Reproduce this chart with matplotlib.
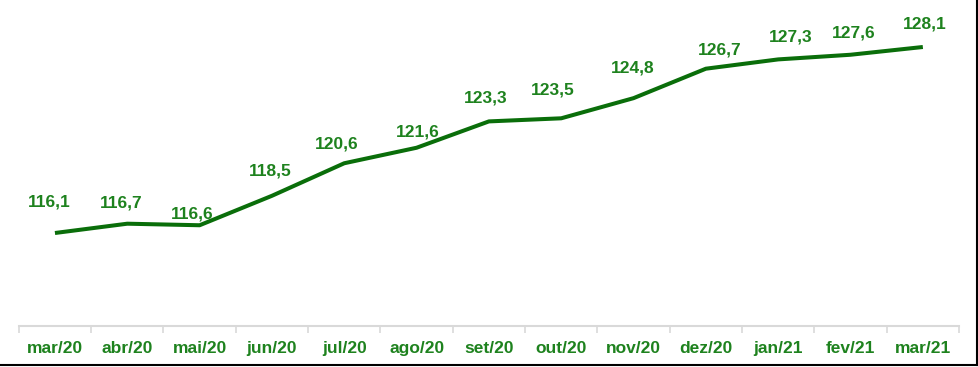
import matplotlib
matplotlib.use("Agg")
import matplotlib.pyplot as plt
from matplotlib.lines import Line2D

months = ["mar/20", "abr/20", "mai/20", "jun/20", "jul/20", "ago/20", "set/20",
          "out/20", "nov/20", "dez/20", "jan/21", "fev/21", "mar/21"]
values = [116.1, 116.7, 116.6, 118.5, 120.6, 121.6, 123.3, 123.5, 124.8,
          126.7, 127.3, 127.6, 128.1]

# label placement offsets (pixels) relative to each point
label_dx = [-6, -6, -7, -2, -8, 1, -3, -8, -1, 14, 12, 3, 2]
label_dy = [31, 21, 11, 25, 19, 16, 23, 28, 30, 19, 22, 22, 23]

plt.rcParams['font.family'] = ['Liberation Sans', 'DejaVu Sans']

line_color = "#0a6e0a"
text_color = "#1e821e"

fig = plt.figure(figsize=(9.79, 3.67), dpi=100)
ax = fig.add_axes([18.8 / 979, 1 - 326 / 367, (959 - 18.8) / 979, (326 - 16) / 367])

x = list(range(len(months)))
ax.plot(x, values, color=line_color, linewidth=2.9, solid_capstyle='butt')

for xi, v, dx, dy in zip(x, values, label_dx, label_dy):
    ax.annotate(f"{v:.1f}".replace(".", ","), (xi, v), xytext=(dx, dy),
                textcoords="offset pixels", ha="center", va="center",
                fontsize=12.5, fontweight="bold", color=text_color)

ax.set_xlim(-0.5, len(months) - 0.5)
ax.set_ylim(110.1, 130.1)

ax.set_xticks(x)
ax.set_xticklabels(months, fontsize=12.5, fontweight="bold", color=text_color)
ax.tick_params(axis='x', length=0, pad=11)
ax.set_xticks([i - 0.5 for i in range(len(months) + 1)], minor=True)
ax.tick_params(axis='x', which='minor', length=5, width=1.2, color="#d9d9d9")
ax.set_yticks([])

for s in ["top", "right", "left"]:
    ax.spines[s].set_visible(False)
ax.spines["bottom"].set_color("#d9d9d9")
ax.spines["bottom"].set_linewidth(1.5)

# outer frame lines (bottom and right)
fig.add_artist(Line2D([0, 977.5 / 979], [1 - 365 / 367, 1 - 365 / 367],
                      transform=fig.transFigure, color="black", linewidth=1.5))
fig.add_artist(Line2D([977.5 / 979, 977.5 / 979], [1 - 365 / 367, 1],
                      transform=fig.transFigure, color="black", linewidth=1.5))

fig.savefig("out.png", dpi=100, facecolor="white")
